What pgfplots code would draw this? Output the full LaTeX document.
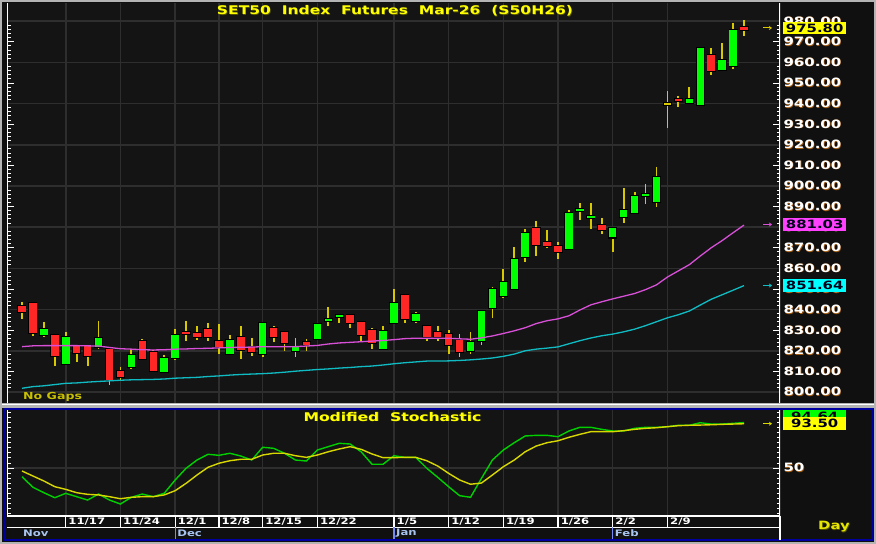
\documentclass[border=0pt]{standalone}
\usepackage{pgfplots}
\usepackage{pgfplotstable}
\pgfplotsset{compat=1.18}
\usetikzlibrary{arrows.meta}
\usepackage{fontspec}
\setmainfont{DejaVu Sans}[FakeStretch=1.3]

\definecolor{plotbg}{HTML}{141414}
\definecolor{panelbg}{HTML}{101010}
\definecolor{gridc}{HTML}{2E2E2E}
\definecolor{upc}{HTML}{00FF00}
\definecolor{dnc}{HTML}{FF2626}
\definecolor{wickc}{HTML}{D8C800}
\definecolor{mac}{HTML}{D84FD8}
\definecolor{cyc}{HTML}{10BCC4}
\definecolor{stg}{HTML}{00D000}
\definecolor{sty}{HTML}{D8D800}
\definecolor{titc}{HTML}{FFFF00}
\definecolor{shc}{HTML}{A05A10}
\definecolor{tsh}{HTML}{505000}
\definecolor{monc}{HTML}{A8C4F0}
\definecolor{framec}{HTML}{B4B4B4}
\definecolor{bluef}{HTML}{0000A0}
\definecolor{nogap}{HTML}{C8C000}
\definecolor{magbox}{HTML}{FF40FF}
\definecolor{cybox}{HTML}{00FFFF}

% text with a small offset shadow behind it
\newcommand\sh[2]{\rlap{\kern0.6bp\raisebox{-0.6bp}{\color{#1}#2}}#2}

% daily candles: index, open, high, low, close
\pgfplotstableread{
i  O      H      L      C
0  841.7  843.7  835.3  839.0
1  843.4  843.8  827.2  828.8
2  827.7  834.1  826.6  830.6
3  827.7  828.2  812.6  817.6
4  813.6  829.0  813.1  826.6
5  822.5  823.0  814.7  818.8
6  822.3  822.8  812.4  817.6
7  822.0  834.6  820.8  826.1
8  820.9  821.5  803.3  805.8
9  810.2  812.0  805.8  807.4
10 812.0  820.8  811.1  818.0
11 824.8  825.7  815.5  815.9
12 819.6  820.4  809.9  810.2
13 809.9  818.0  809.4  816.6
14 816.4  830.6  815.5  827.7
15 829.3  834.6  824.8  828.1
16 828.8  832.2  825.2  826.6
17 830.6  833.4  824.8  826.9
18 824.8  832.9  818.4  822.0
19 818.4  827.7  818.0  825.2
20 826.6  832.2  815.9  820.4
21 822.0  826.1  817.5  819.3
22 818.4  834.1  816.9  833.6
23 831.2  831.8  824.5  826.6
24 829.0  829.5  819.9  823.7
25 820.1  826.1  817.2  822.0
26 824.3  825.7  820.1  823.0
27 825.7  833.6  825.0  832.9
28 834.4  841.1  831.8  835.3
29 836.6  837.4  833.4  837.2
30 837.4  837.9  831.0  833.6
31 834.1  834.5  824.8  827.7
32 830.1  831.2  820.8  823.7
33 820.8  832.2  820.8  829.6
34 833.6  849.9  833.4  843.4
35 847.1  847.6  833.4  835.3
36 834.6  839.0  833.7  837.7
37 831.8  832.2  824.8  826.9
38 829.3  832.0  825.0  826.6
39 828.2  830.1  818.4  822.8
40 825.2  828.1  817.2  819.3
41 820.1  829.3  818.4  824.2
42 824.9  839.8  822.8  839.3
43 841.0  850.8  835.8  850.0
44 846.7  859.7  845.5  853.2
45 849.9  870.2  849.9  864.4
46 865.4  879.1  863.3  877.0
47 879.4  883.0  866.0  871.4
48 872.8  878.6  869.8  870.9
49 870.8  872.7  864.4  868.1
50 869.6  888.3  868.9  886.7
51 888.1  891.6  883.5  888.7
52 884.6  891.6  879.0  885.3
53 881.2  884.3  876.6  878.5
54 875.0  879.9  868.1  879.4
55 885.1  898.9  882.2  888.3
56 886.7  897.0  886.7  895.3
57 895.3  901.0  891.1  896.3
58 892.4  909.1  890.0  904.4
59 940.0  946.3  928.0  940.0
60 942.1  943.7  938.2  941.4
61 940.4  948.2  939.7  942.2
62 939.2  967.6  939.2  967.1
63 963.6  967.1  953.7  955.8
64 956.3  969.3  956.3  961.2
65 958.3  979.3  956.8  975.7
66 977.0  980.6  972.8  975.8
}\candles

% moving averages (magenta, cyan)
\pgfplotstableread{
i  m      c
0  822.0  801.8
1  822.4  802.6
2  822.5  803.0
3  822.5  803.6
4  822.5  804.2
5  822.5  804.4
6  822.4  804.8
7  822.3  805.1
8  821.6  805.4
9  821.0  805.7
10 820.8  805.9
11 820.5  806.0
12 820.4  806.1
13 820.5  806.3
14 820.8  806.7
15 820.9  806.9
16 821.1  807.1
17 821.2  807.5
18 821.4  807.8
19 821.6  808.2
20 821.7  808.5
21 821.8  808.7
22 822.0  808.9
23 822.0  809.2
24 822.0  809.6
25 822.0  810.1
26 822.3  810.5
27 822.6  810.9
28 823.3  811.2
29 823.8  811.6
30 824.1  811.9
31 824.4  812.3
32 824.7  812.6
33 825.0  813.1
34 825.4  813.7
35 825.9  814.2
36 826.1  814.6
37 826.1  815.0
38 826.1  815.0
39 826.1  815.1
40 825.8  815.3
41 825.6  815.6
42 826.3  816.0
43 827.2  816.5
44 828.4  817.3
45 829.7  818.4
46 831.2  820.0
47 833.2  820.8
48 834.6  821.3
49 835.5  821.9
50 837.0  823.4
51 839.8  824.9
52 842.3  826.2
53 843.8  827.3
54 845.2  828.1
55 846.5  829.2
56 847.8  830.5
57 849.7  832.2
58 852.0  834.1
59 855.8  836.0
60 858.8  837.5
61 861.8  839.3
62 866.0  842.2
63 870.0  845.0
64 873.5  847.2
65 877.3  849.4
66 881.03 851.64
}\mas

% modified stochastic: fast (green), slow (yellow)
\pgfplotstableread{
i  g     s
0  41.5  47.1
1  31.1  42.2
2  25.8  37.3
3  20.9  31.7
4  25.2  29.1
5  21.9  25.8
6  18.6  24.2
7  24.5  23.6
8  18.6  21.9
9  14.7  19.9
10 21.3  21.3
11 24.5  21.9
12 21.9  21.9
13 25.2  23.6
14 38.3  27.8
15 49.8  35.0
16 57.9  43.2
17 63.5  50.7
18 62.5  54.7
19 64.5  57.2
20 61.8  58.6
21 57.9  58.6
22 70.4  62.8
23 69.4  64.5
24 64.5  64.5
25 57.9  62.1
26 56.9  60.5
27 67.7  62.8
28 71.0  66.0
29 74.3  68.7
30 73.6  71.0
31 66.0  68.4
32 53.7  63.8
33 53.7  60.2
34 62.1  60.2
35 60.5  60.5
36 60.5  60.5
37 49.8  57.2
38 40.9  52.0
39 31.7  44.8
40 22.9  38.3
41 21.3  34.1
42 39.9  35.3
43 57.9  43.2
44 67.7  51.3
45 74.9  57.9
46 81.5  66.0
47 82.1  71.6
48 82.1  74.9
49 80.8  76.8
50 86.4  80.2
51 90.0  83.1
52 90.0  85.7
53 88.0  85.7
54 86.4  85.7
55 86.4  86.7
56 89.0  88.0
57 90.0  89.0
58 90.0  89.6
59 90.6  90.6
60 92.0  91.6
61 92.0  92.0
62 94.5  92.2
63 93.2  92.5
64 93.2  92.9
65 93.9  93.2
66 94.64 93.50
}\stoch

\pgfplotsset{
  panel/.style={
    scale only axis, width=773bp, anchor=south west,
    xmin=-1.371, xmax=69.29,
    axis background/.style={fill=plotbg},
    axis line style={draw=none},
    xtick={4,9,14,18,22,27,34,39,44,49,54,59}, xticklabels={},
    xmajorgrids, grid style={gridc, line width=1.5bp},
    tick style={white, line width=0.9bp},
    xtick style={draw=none},
    ytick pos=both, yticklabel pos=right, tick align=inside,
    major tick length=7bp, minor tick length=3.5bp,
    /pgf/number format/assume math mode=true,
    yticklabel style={text=white, font=\bfseries\fontsize{11.5bp}{11.5bp}\selectfont},
  },
  bars/.style 2 args={draw=none, mark=none, forget plot,
    error bars/.cd, y dir=both, y explicit, error mark=none,
    error bar style={draw=#1, solid, line width=#2}},
}

\begin{document}
\begin{tikzpicture}[x=1bp, y=1bp]
\useasboundingbox (0,0) rectangle (876,544);
\fill[panelbg] (0,0) rectangle (876,544);

% price panel
\begin{axis}[panel, at={(7bp,140bp)}, height=401bp,
  ymin=794.17, ymax=988.83,
  ytick={800,810,...,980}, minor y tick num=4,
  yticklabel={\sh{shc}{\pgfmathprintnumber[fixed,fixed zerofill,precision=2]{\tick}}},
  extra y ticks={800,820,...,980}, extra y tick labels={},
  extra y tick style={grid=major, major tick length=0pt},
]
% wicks
\addplot[bars={wickc}{1.8bp}]
  table[x=i, y expr={(\thisrow{H}+\thisrow{L})/2},
        y error expr={(\thisrow{H}-\thisrow{L})/2}] {\candles};
% dark outline behind the bodies
\addplot[bars={black}{9bp}]
  table[x=i, y expr={(\thisrow{O}+\thisrow{C})/2},
        y error expr={max(abs(\thisrow{C}-\thisrow{O})/2,0.45)+0.5}] {\candles};
% bodies: up, down, unchanged
\addplot[restrict expr to domain={\thisrow{C}-\thisrow{O}}{0.05:1000}, bars={upc}{7.5bp}]
  table[x=i, y expr={(\thisrow{O}+\thisrow{C})/2},
        y error expr={max(abs(\thisrow{C}-\thisrow{O})/2,0.45)}] {\candles};
\addplot[restrict expr to domain={\thisrow{C}-\thisrow{O}}{-1000:-0.05}, bars={dnc}{7.5bp}]
  table[x=i, y expr={(\thisrow{O}+\thisrow{C})/2},
        y error expr={max(abs(\thisrow{C}-\thisrow{O})/2,0.45)}] {\candles};
\addplot[restrict expr to domain={\thisrow{C}-\thisrow{O}}{-0.05:0.05}, bars={wickc}{7.5bp}]
  table[x=i, y expr={(\thisrow{O}+\thisrow{C})/2},
        y error expr={max(abs(\thisrow{C}-\thisrow{O})/2,0.45)}] {\candles};
\addplot[mac, line width=1.3bp, mark=none] table[x=i, y=m] {\mas};
\addplot[cyc, line width=1.3bp, mark=none] table[x=i, y=c] {\mas};
\draw[white, line width=1.6bp] (rel axis cs:0,0) -- (rel axis cs:0,1);
\draw[white, line width=1.6bp] (rel axis cs:1,0) -- (rel axis cs:1,1);
\end{axis}

% stochastic panel
\begin{axis}[panel, at={(7bp,28bp)}, height=106bp,
  ymin=2.94, ymax=107,
  ytick={50}, minor ytick={5,10,...,105}, ymajorgrids,
  yticklabel={\sh{shc}{\pgfmathprintnumber{\tick}}},
]
\addplot[stg, line width=1.4bp, mark=none] table[x=i, y=g] {\stoch};
\addplot[sty, line width=1.4bp, mark=none] table[x=i, y=s] {\stoch};
\draw[white, line width=1.6bp] (rel axis cs:0,0) -- (rel axis cs:0,1);
\draw[white, line width=1.6bp] (rel axis cs:1,0) -- (rel axis cs:1,1);
\end{axis}

% frames
\fill[framec] (0,136) rectangle (876,140.5);
\draw[white, line width=0.8bp] (0,140) -- (876,140);
\draw[bluef, line width=2bp] (4.5,3.5) rectangle (872,135);
\draw[framec, line width=2.5bp] (1.2,1.2) rectangle (874.8,542.8);

% titles and notes
\node[text=titc, font=\bfseries\fontsize{12}{12}\selectfont] at (395,533)
  {\sh{tsh}{SET50\ \ Index\ \ Futures\ \ Mar-26\ \ (S50H26)}};
\node[text=nogap, font=\bfseries\fontsize{9.7}{9.7}\selectfont, anchor=west, inner sep=0]
  at (23,147) {No\ Gaps};
\node[text=titc, font=\bfseries\fontsize{12}{12}\selectfont] at (392.5,127)
  {\sh{tsh}{Modified\ \ Stochastic}};
\node[text=titc!90!black, font=\bfseries\fontsize{11.5}{11.5}\selectfont, anchor=west, inner sep=0]
  at (818,17) {\sh{tsh}{Day}};

% last value boxes
\tikzset{lastbox/.style={fill=#1, text=black!90!blue, inner sep=0, anchor=west,
  minimum width=63bp, minimum height=12.5bp, font=\bfseries\fontsize{11.5}{11.5}\selectfont}}
\node[lastbox=upc] at (783,127.5) {94.64};
\node[lastbox=titc] at (783,120.3) {93.50};
\node[lastbox=titc] at (783,516) {975.80};
\node[lastbox=magbox] at (783,319.5) {881.03};
\node[lastbox=cybox] at (783,258.5) {851.64};
\draw[-{Stealth[length=3bp,width=4bp]}, line width=1bp, wickc] (763,516) -- (772,516);
\draw[-{Stealth[length=3bp,width=4bp]}, line width=1bp, mac] (763,319.5) -- (772,319.5);
\draw[-{Stealth[length=3bp,width=4bp]}, line width=1bp, cyc] (763,258.5) -- (772,258.5);
\draw[-{Stealth[length=3bp,width=4bp]}, line width=1bp, sty] (763,120.3) -- (772,120.3);

% date rows
\draw[white, line width=1.2bp] (7,16.5) -- (780,16.5);
\draw[white, line width=1.4bp] (7,28) -- (780,28);
\draw[white, line width=1.6bp] (780,28) -- (780,3.5);
\foreach \i/\l in {4/{11/17},9/{11/24},14/{12/1},18/{12/8},22/{12/15},27/{12/22},
                   34/{1/5},39/{1/12},44/{1/19},49/{1/26},54/{2/2},59/{2/9}}{
  \draw[white, line width=1.2bp] ({22+10.94*\i},28) -- ({22+10.94*\i},16.5);
  \node[anchor=west, inner sep=0, text=white, font=\bfseries\fontsize{9}{9}\selectfont]
    at ({22+10.94*\i+2.5},22) {\l};
}
\foreach \i/\l in {14/Dec,34/Jan,54/Feb}{
  \draw[monc!70!blue, line width=1.2bp] ({22+10.94*\i},16.5) -- ({22+10.94*\i},4.5);
  \node[anchor=west, inner sep=0, text=monc, font=\bfseries\fontsize{9}{9}\selectfont]
    at ({22+10.94*\i+2},10.5) {\l};
}
\node[anchor=west, inner sep=0, text=monc, font=\bfseries\fontsize{9}{9}\selectfont]
  at (23,10.5) {Nov};
\end{tikzpicture}
\end{document}
